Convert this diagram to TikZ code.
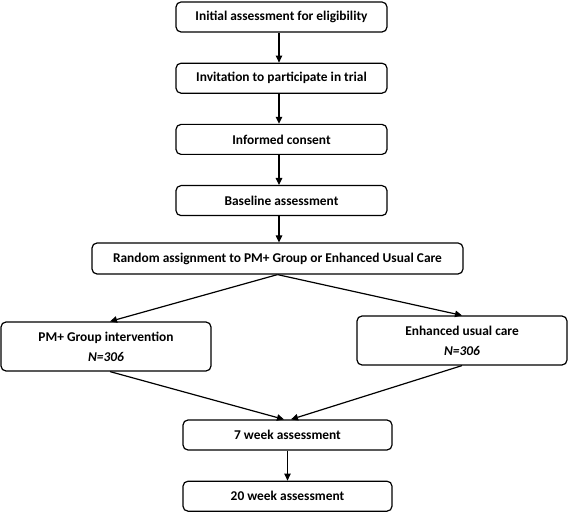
\documentclass[tikz,border=0pt]{standalone}
\usepackage{fontspec}
\setmainfont{Carlito}
\usepackage{tikz}
\usetikzlibrary{arrows.meta, positioning}

\begin{document}
\begin{tikzpicture}[
    x=1pt, y=1pt,
    node distance=30pt,
    font=\fontsize{13.4}{15}\selectfont\bfseries,
    box/.style={rectangle, draw, line width=1.2pt, rounded corners=5pt, minimum width=211pt, minimum height=30pt, text centered, inner sep=2pt},
    armbox/.style={box, minimum width=210pt, minimum height=49pt, align=center},
    arrow/.style={-{Triangle[length=7pt, width=6.5pt]}, line width=1.2pt}
]
\useasboundingbox (0,0) rectangle (568,512);

% Screening chain (top)
\node[box] (init) at (281.5,495) {Initial assessment for eligibility};
\node[box, below=of init] (invite) {Invitation to participate in trial};
\node[box, below=of invite] (consent) {Informed consent};
\node[box, below=of consent] (baseline) {Baseline assessment};
\node[box, minimum width=371pt, minimum height=31pt] (random) at (277.5,253.5) {Random assignment to PM+ Group or Enhanced Usual Care};

\draw[arrow] ([xshift=-2.5pt]init.south) -- ([xshift=-2.5pt]invite.north);
\draw[arrow] ([xshift=-2.5pt]invite.south) -- ([xshift=-2.5pt]consent.north);
\draw[arrow] ([xshift=-2.5pt]consent.south) -- ([xshift=-2.5pt]baseline.north);
\draw[arrow] ([xshift=-2.5pt]baseline.south) -- ([xshift=-2.5pt]baseline.south |- random.north);

% Trial arms
\node[armbox] (pmgroup) at (106,165.5) {PM+ Group intervention\\[5pt] \textit{N=306}};
\node[armbox] (usualcare) at (462,171.5) {Enhanced usual care\\[5pt] \textit{N=306}};

\draw[arrow] (random.south) -- ([xshift=4pt]pmgroup.north);
\draw[arrow] (random.south) -- (usualcare.north);

% Follow-up
\node[box, minimum width=209pt] (week7) at (287.5,77) {7 week assessment};
\node[box, minimum width=209pt, below=of week7] (week20) {20 week assessment};

\draw[arrow] ([xshift=4pt]pmgroup.south) -- ([xshift=-3.5pt]week7.north);
\draw[arrow] (usualcare.south) -- ([xshift=3.5pt]week7.north);
\draw[arrow] (week7) -- (week20);

\end{tikzpicture}
\end{document}
